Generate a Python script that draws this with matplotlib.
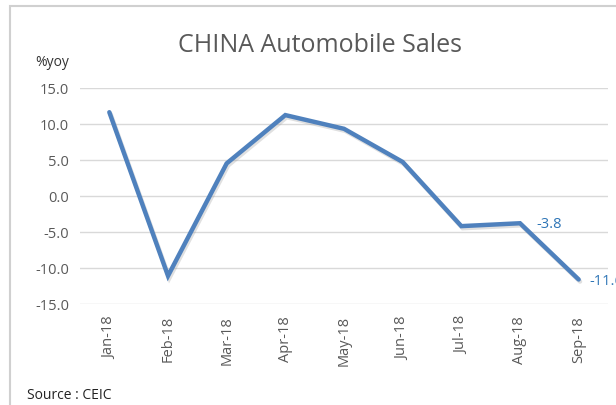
import matplotlib.pyplot as plt
import matplotlib.patheffects as pe
from matplotlib.patches import Rectangle

months = ['Jan-18', 'Feb-18', 'Mar-18', 'Apr-18', 'May-18', 'Jun-18', 'Jul-18', 'Aug-18', 'Sep-18']
sales_yoy = [11.6, -11.1, 4.5, 11.2, 9.3, 4.7, -4.2, -3.8, -11.6]
y_ticks = [15.0, 10.0, 5.0, 0.0, -5.0, -10.0, -15.0]

plt.rcParams['font.family'] = ['Open Sans', 'DejaVu Sans']
grey = '#595959'

fig = plt.figure(figsize=(6.16, 4.06), dpi=100)
ax = fig.add_axes([80 / 616, 1 - 305 / 406, 528 / 616, (305 - 88.7) / 406])

x = list(range(len(months)))
ax.plot(x, sales_yoy, color='#4f81bd', linewidth=3.2, solid_capstyle='round',
        solid_joinstyle='miter',
        path_effects=[pe.SimpleLineShadow(offset=(1, -1.5), shadow_color='#999999', alpha=0.3),
                      pe.Normal()])

ax.set_xlim(-0.5, len(months) - 0.5)
ax.set_ylim(-15, 15)
ax.set_yticks(y_ticks)
ax.set_yticklabels([f'{v:.1f}' for v in y_ticks], color=grey, fontsize=10.5)
ax.set_xticks(x)
ax.set_xticklabels(months, rotation=90, color=grey, fontsize=10.5)
ax.tick_params(length=0, pad=8)
ax.grid(axis='y', color='#d9d9d9', linewidth=1)
ax.set_axisbelow(True)
for s in ax.spines.values():
    s.set_visible(False)

# data labels for last two points
ax.annotate(f'{sales_yoy[7]:.1f}', (x[7], sales_yoy[7]), xytext=(12, 0),
            textcoords='offset points', color='#2e75b6', fontsize=10.5, va='center')
ax.annotate(f'{sales_yoy[8]:.1f}', (x[8], sales_yoy[8]), xytext=(8, -1),
            textcoords='offset points', color='#2e75b6', fontsize=10.5, va='center',
            annotation_clip=False)

fig.text(320 / 616, 1 - 45 / 406, 'CHINA Automobile Sales', ha='center', va='center',
         color=grey, fontsize=18)
fig.text(35 / 616, 1 - 62 / 406, '%yoy', ha='left', va='center', color='#333333', fontsize=10)
fig.text(27 / 616, 1 - 396 / 406, 'Source : CEIC', ha='left', va='center', color='#222222', fontsize=10)

fig.patches.append(Rectangle((10 / 616, -0.1), 1.2, 1 - 7 / 406 + 0.1, transform=fig.transFigure,
                             fill=False, edgecolor='#d0d0d0', linewidth=1.5))

fig.savefig('out.png', dpi=100)
